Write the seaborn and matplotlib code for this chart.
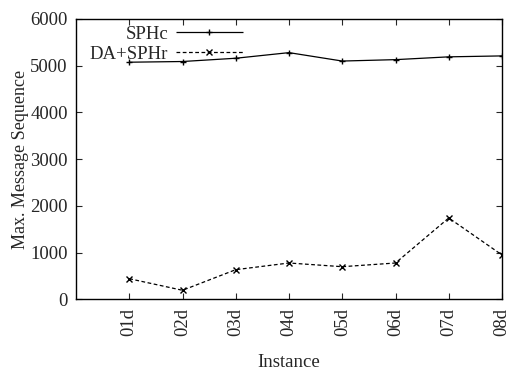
import matplotlib
matplotlib.use("Agg")
import matplotlib.pyplot as plt
import seaborn as sns
import pandas as pd

instances = ["01d", "02d", "03d", "04d", "05d", "06d", "07d", "08d"]
sphc = [5075, 5090, 5160, 5280, 5100, 5130, 5190, 5210]
da_sphr = [441, 193, 634, 777, 698, 777, 1741, 949]

sns.set_theme(style="ticks")
plt.rcParams['font.family'] = ['Liberation Serif', 'DejaVu Serif']

df = pd.DataFrame({
    "pos": list(range(1, len(instances) + 1)) * 2,
    "value": sphc + da_sphr,
    "series": ["SPHc"] * len(instances) + ["DA+SPHr"] * len(instances),
})

fig = plt.figure(figsize=(5.10, 3.73), dpi=100)
ax = fig.add_axes([76/510, 1 - 299.3/373, (502-76)/510, (299.3-19)/373])

sns.lineplot(data=df, x="pos", y="value", hue="series", style="series",
             palette={"SPHc": "black", "DA+SPHr": "black"},
             dashes={"SPHc": (1, 0), "DA+SPHr": (3, 2)},
             markers={"SPHc": "+", "DA+SPHr": "x"},
             markersize=4.5, markeredgewidth=1.0, markeredgecolor="black",
             linewidth=0.9, ax=ax)

fs = 13.5
ax.set_xlim(0, 8)
ax.set_ylim(0, 6000)
ax.set_xticks(range(1, len(instances) + 1))
ax.set_xticklabels(instances, rotation=90, fontsize=fs)
ax.set_yticks(range(0, 6001, 1000))
ax.tick_params(axis='y', labelsize=fs)
ax.tick_params(direction='in', top=True, right=True, length=4, width=0.8, pad=6)
for s in ax.spines.values():
    s.set_linewidth(1.0)
    s.set_color("black")
ax.set_xlabel("Instance", fontsize=fs, labelpad=13)
ax.set_ylabel("Max. Message Sequence", fontsize=13, labelpad=1)

leg = ax.legend(loc="upper left", frameon=False, markerfirst=False, fontsize=fs,
                handlelength=3.6, borderaxespad=0.1, labelspacing=0.15,
                handletextpad=0.4, bbox_to_anchor=(0.01, 1.01))
for t in leg.get_texts():
    t.set_ha("right")
leg._legend_box.align = "right"

fig.savefig("out.png", dpi=100)
